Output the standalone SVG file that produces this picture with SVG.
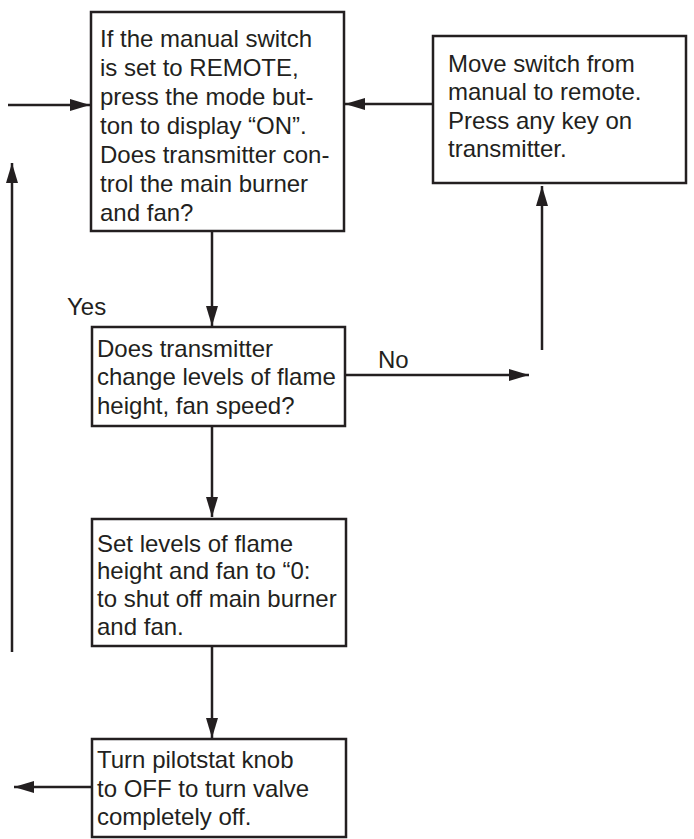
<svg xmlns="http://www.w3.org/2000/svg" width="694" height="839" viewBox="0 0 694 839">
<style>
.box{fill:#fff;stroke:#231f20;stroke-width:2.5}
.t{font-family:"Liberation Sans",Arial,sans-serif;font-size:24px;fill:#231f20}
.c{stroke:#231f20;stroke-width:2.5;fill:none}
</style>
<defs>
<marker id="ah" viewBox="0 0 20 12" refX="20" refY="6" markerWidth="20" markerHeight="12" markerUnits="userSpaceOnUse" orient="auto">
<path d="M0,0 L20,6 L0,12 Z" fill="#231f20"/>
</marker>
</defs>
<g id="connectors">
<line class="c" x1="8" y1="105" x2="90" y2="105" marker-end="url(#ah)"/>
<line class="c" x1="12" y1="652" x2="12" y2="163" marker-end="url(#ah)"/>
<line class="c" x1="433" y1="104" x2="345" y2="104" marker-end="url(#ah)"/>
<line class="c" x1="542" y1="350" x2="542" y2="186" marker-end="url(#ah)"/>
<line class="c" x1="346" y1="375" x2="529" y2="375" marker-end="url(#ah)"/>
<line class="c" x1="212" y1="231" x2="212" y2="326" marker-end="url(#ah)"/>
<line class="c" x1="212" y1="426" x2="212" y2="517" marker-end="url(#ah)"/>
<line class="c" x1="212" y1="646" x2="212" y2="738" marker-end="url(#ah)"/>
<line class="c" x1="92" y1="787" x2="14" y2="787" marker-end="url(#ah)"/>
<text class="t" x="378" y="368" font-size="22">No</text>
<text class="t" x="67" y="315">Yes</text>
</g>
<g id="n1">
<rect class="box" x="91" y="12" width="253" height="219"/>
<text class="t" x="100" y="47">If the manual switch</text>
<text class="t" x="100" y="76">is set to REMOTE,</text>
<text class="t" x="100" y="105">press the mode but-</text>
<text class="t" x="100" y="134">ton to display “ON”.</text>
<text class="t" x="100" y="163">Does transmitter con-</text>
<text class="t" x="100" y="192">trol the main burner</text>
<text class="t" x="100" y="221">and fan?</text>
</g>
<g id="n2">
<rect class="box" x="433" y="36" width="253" height="147"/>
<text class="t" x="448" y="72">Move switch from</text>
<text class="t" x="448" y="100">manual to remote.</text>
<text class="t" x="448" y="129">Press any key on</text>
<text class="t" x="448" y="157">transmitter.</text>
</g>
<g id="n3">
<rect class="box" x="92" y="327" width="253" height="99"/>
<text class="t" x="97" y="357">Does transmitter</text>
<text class="t" x="97" y="385">change levels of flame</text>
<text class="t" x="97" y="414">height, fan speed?</text>
</g>
<g id="n4">
<rect class="box" x="92" y="519" width="254" height="127"/>
<text class="t" x="97" y="552">Set levels of flame</text>
<text class="t" x="97" y="579">height and fan to “0:</text>
<text class="t" x="97" y="607">to shut off main burner</text>
<text class="t" x="97" y="635">and fan.</text>
</g>
<g id="n5">
<rect class="box" x="92" y="739" width="254" height="98"/>
<text class="t" x="97" y="768">Turn pilotstat knob</text>
<text class="t" x="97" y="797">to OFF to turn valve</text>
<text class="t" x="97" y="825">completely off.</text>
</g>
</svg>
